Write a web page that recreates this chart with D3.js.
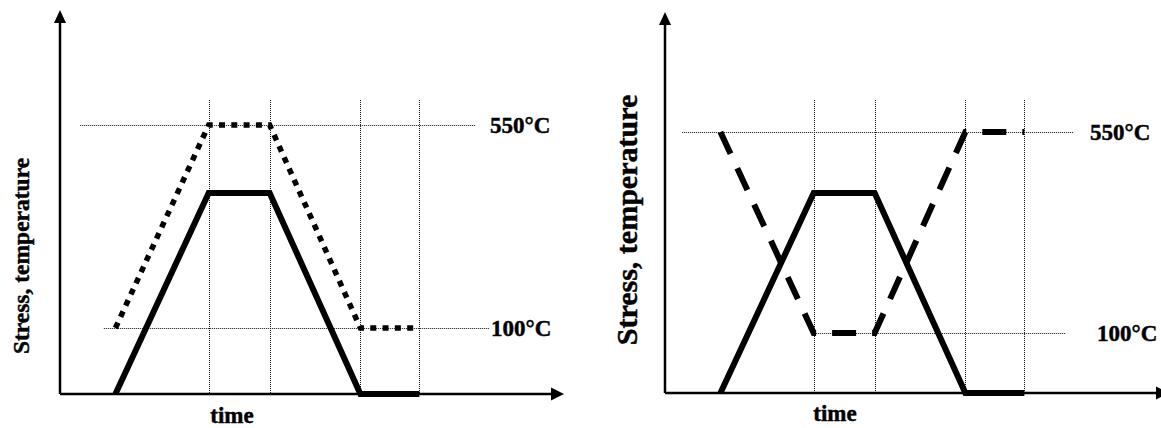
<!DOCTYPE html>
<html>
<head>
<meta charset="utf-8">
<script src="https://cdn.jsdelivr.net/npm/d3@7"></script>
<style>
  html, body { margin: 0; padding: 0; background: #fff; }
  svg { display: block; }
  text { font-family: "Liberation Serif", "Times New Roman", serif; font-weight: bold; fill: #000; stroke: #000; stroke-width: 0.45px; }
</style>
</head>
<body>
<svg id="chart" width="1161" height="428"></svg>
<script>
// Thermo-mechanical cycle: time points of each phase (ramp up, hold, ramp down, rest)
const phaseTimes = [11, 29.5, 41.6, 59.6, 71.3];
// Mechanical load, normalised to the hold level
const stressLevels = [0, 1, 1, 0, 0];
// Temperature histories (°C): in-phase and out-of-phase cycling
const tempInPhase = [100, 550, 550, 100, 100];
const tempOutOfPhase = [550, 100, 100, 550, 550];
// Phase boundaries marked by vertical guides
const guideTimes = [29.5, 41.6, 59.6, 71.3];
// Reference temperatures and their labels
const refTemps = [550, 100];
const refLabels = ["550°C", "100°C"];
const axisTitleX = "time";
const axisTitleY = "Stress, temperature";

const svg = d3.select("#chart");

// Panel layouts: left = in-phase, right = out-of-phase
const panels = [
  {
    ox: 60, oy: 394, tipX: 564, tipY: 10,
    tempRange: [328, 125], stressTop: 193,
    temps: tempInPhase, dash: "6,6.3", dashWidth: 5.5,
    refSpan: { 550: [4.0, 82.5], 100: [8.7, 85.1] },
    labelX: { 550: 490, 100: 491 },
    yTitle: { x: 21, y: 256, size: 23.5 },
    xTitle: { x: 232, y: 423 }
  },
  {
    ox: 665, oy: 393, tipX: 1169, tipY: 12,
    tempRange: [333, 132], stressTop: 193,
    temps: tempOutOfPhase, dash: "24,16", dashWidth: 6,
    refSpan: { 550: [3.4, 81.2], 100: [29.2, 79.6] },
    labelX: { 550: 1090, 100: 1097 },
    yTitle: { x: 626, y: 220, size: 30 },
    xTitle: { x: 835, y: 421 }
  }
];

panels.forEach(p => {
  const g = svg.append("g");
  const x = d3.scaleLinear().domain([0, 100]).range([p.ox, p.tipX]);
  const yStress = d3.scaleLinear().domain([0, 1]).range([p.oy, p.stressTop]);
  const yTemp = d3.scaleLinear().domain([100, 550]).range(p.tempRange);

  // vertical guides at phase boundaries
  g.selectAll("line.guide").data(guideTimes).join("line")
    .attr("class", "guide")
    .attr("x1", d => Math.round(x(d)) + 0.5).attr("x2", d => Math.round(x(d)) + 0.5)
    .attr("y1", 100).attr("y2", p.oy)
    .attr("stroke", "#111").attr("stroke-width", 1)
    .attr("stroke-dasharray", "1,1");

  // horizontal reference temperature lines
  g.selectAll("line.ref").data(refTemps).join("line")
    .attr("class", "ref")
    .attr("x1", d => x(p.refSpan[d][0])).attr("x2", d => x(p.refSpan[d][1]))
    .attr("y1", d => Math.round(yTemp(d)) + 0.5).attr("y2", d => Math.round(yTemp(d)) + 0.5)
    .attr("stroke", "#111").attr("stroke-width", 1)
    .attr("stroke-dasharray", "1,1");

  // reference labels
  g.selectAll("text.ref").data(refTemps).join("text")
    .attr("class", "ref")
    .attr("x", d => p.labelX[d])
    .attr("y", d => yTemp(d) + 8)
    .attr("font-size", 23)
    .text((d, i) => refLabels[i]);

  // axes with filled arrowheads
  g.append("line")
    .attr("x1", p.ox).attr("y1", p.oy).attr("x2", p.ox).attr("y2", p.tipY + 10)
    .attr("stroke", "#000").attr("stroke-width", 2.5);
  g.append("line")
    .attr("x1", p.ox).attr("y1", p.oy).attr("x2", p.tipX - 10).attr("y2", p.oy)
    .attr("stroke", "#000").attr("stroke-width", 2.5);
  g.append("path")
    .attr("d", `M${p.ox},${p.tipY} L${p.ox - 6},${p.tipY + 13} L${p.ox + 6},${p.tipY + 13} Z`)
    .attr("fill", "#000");
  g.append("path")
    .attr("d", `M${p.tipX},${p.oy} L${p.tipX - 13},${p.oy - 6.5} L${p.tipX - 13},${p.oy + 6.5} Z`)
    .attr("fill", "#000");

  // temperature history
  const tempLine = d3.line().x((d, i) => x(phaseTimes[i])).y(d => yTemp(d));
  g.append("path")
    .attr("d", tempLine(p.temps))
    .attr("fill", "none").attr("stroke", "#000")
    .attr("stroke-width", p.dashWidth)
    .attr("stroke-dasharray", p.dash)
    .attr("stroke-linejoin", "miter");

  // stress history
  const stressLine = d3.line().x((d, i) => x(phaseTimes[i])).y(d => yStress(d));
  g.append("path")
    .attr("d", stressLine(stressLevels))
    .attr("fill", "none").attr("stroke", "#000")
    .attr("stroke-width", 6)
    .attr("stroke-linejoin", "miter");

  // axis titles
  g.append("text")
    .attr("transform", `translate(${p.yTitle.x},${p.yTitle.y}) rotate(-90)`)
    .attr("text-anchor", "middle")
    .attr("dominant-baseline", "central")
    .attr("font-size", p.yTitle.size)
    .text(axisTitleY);
  g.append("text")
    .attr("x", p.xTitle.x).attr("y", p.xTitle.y)
    .attr("text-anchor", "middle")
    .attr("font-size", 23)
    .text(axisTitleX);
});
</script>
</body>
</html>
